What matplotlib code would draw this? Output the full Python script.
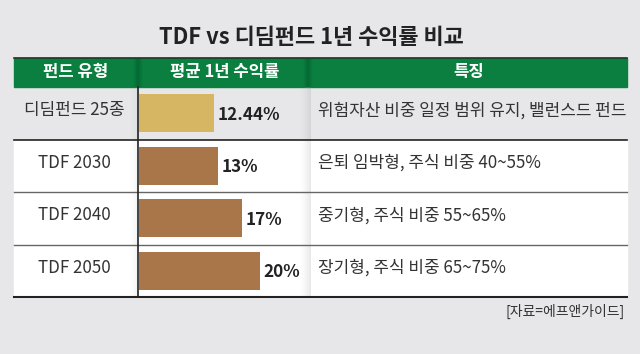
import numpy as np
import matplotlib
matplotlib.use("Agg")
import matplotlib.pyplot as plt
from matplotlib.patches import Rectangle

plt.rcParams['font.family'] = ['Noto Sans CJK KR', 'DejaVu Sans']

# data
title = "TDF vs 디딤펀드 1년 수익률 비교"
headers = ["펀드 유형", "평균 1년 수익률", "특징"]
funds = ["디딤펀드 25종", "TDF 2030", "TDF 2040", "TDF 2050"]
returns = [12.44, 13, 17, 20]
notes = [
    "위험자산 비중 일정 범위 유지, 밸런스드 펀드",
    "은퇴 임박형, 주식 비중 40~55%",
    "중기형, 주식 비중 55~65%",
    "장기형, 주식 비중 65~75%",
]
source = "[자료=에프앤가이드]"

BG = "#e7e7ea"
GREEN = "#0a7f3f"
TXT = "#333333"
bar_colors = ["#d6b563", "#a9764a", "#a9764a", "#a9764a"]

W, H = 640, 354
fig = plt.figure(figsize=(6.4, 3.54), dpi=100, facecolor=BG)
ax = fig.add_axes([0, 0, 1, 1])
ax.set_xlim(0, W)
ax.set_ylim(H, 0)
ax.axis('off')

# table geometry in pixels
left, right = 14, 627
c1, c2 = 138, 311
head_top, head_bot = 58, 87
body_bot = 297
row_h = (body_bot - head_bot) / len(funds)

ax.text(311, 38, title, ha='center', va='center', fontsize=15.8,
        fontweight='bold', color='#222222')

# header
ax.add_patch(Rectangle((left, head_top), right - left, head_bot - head_top,
                       color=GREEN, zorder=1))
ax.plot([left, right], [head_top, head_top], color='#1e3a28', lw=1.2, zorder=3)
for xe in (c1, c2 - 3):
    grad = np.linspace(0, 1, 20).reshape(1, -1)
    grad = np.minimum(grad, grad[:, ::-1]) * 2
    ax.imshow(np.dstack([np.full((1, 20, 3), [0.0, 0.3, 0.15]), grad[..., None] * 0.45]),
              extent=(xe - 5, xe + 5, head_bot, head_top), aspect='auto', zorder=2)
hx = [(left + c1) / 2, (c1 + c2) / 2, (c2 + right) / 2]
for x, h in zip(hx, headers):
    ax.text(x, (head_top + head_bot) / 2 - 1, h, ha='center', va='center',
            fontsize=12, fontweight='bold', color='white', zorder=4)

# body rows
for i in range(len(funds)):
    y0 = head_bot + i * row_h
    if i > 0:
        ax.add_patch(Rectangle((left, y0), right - left, row_h, color='white', zorder=1))
    yc = y0 + row_h / 2 - 3
    ax.text((left + c1) / 2 - 2, yc, funds[i], ha='center', va='center',
            fontsize=12.2, color=TXT, zorder=4)
    ax.text(c2 + 7, yc, notes[i], ha='left', va='center',
            fontsize=12.2, color=TXT, zorder=4)
    if i > 0:
        lc, lw = ('#222222', 1.2) if i == 1 else ('#666666', 1.0)
        ax.plot([left, right], [y0, y0], color=lc, lw=lw, zorder=3)
ax.plot([left, right], [body_bot, body_bot], color='#222222', lw=1.5, zorder=3)

# column shadows
g = np.linspace(0, 1, 30).reshape(1, -1) ** 1.5
ax.imshow(np.dstack([np.full((1, 30, 3), 0.6), g[..., None] * 0.22]),
          extent=(c2 - 12, c2, body_bot, head_bot), aspect='auto', zorder=2)
ax.imshow(np.dstack([np.full((1, 30, 3), 0.6), g[..., None] * 0.12]),
          extent=(c1 - 9, c1, body_bot, head_bot), aspect='auto', zorder=2)
ax.plot([c1, c1], [head_bot, body_bot], color='#222222', lw=1.2, zorder=5)

ax.text(right - 2, 311, source, ha='right', va='center', fontsize=10, color=TXT)

# bar axes
px = 6.06  # pixels per percent
bx = fig.add_axes([(c1 + 1) / W, (H - body_bot) / H, (c2 - 6 - c1) / W, (body_bot - head_bot) / H])
bx.set_xlim(0, (c2 - 6 - c1) / px)
bx.set_ylim(len(funds) - 0.5, -0.5)
bx.axis('off')
ypos = np.arange(len(funds))
bx.barh(ypos, returns, height=0.73, color=bar_colors, zorder=3)
for y, v in zip(ypos, returns):
    bx.annotate(f"{v:g}%", (v, y), xytext=(2.5, -1), textcoords='offset points',
                ha='left', va='center', fontsize=12.3, fontweight='bold', color='#222222')

fig.savefig("out.png", dpi=100, facecolor=BG)
